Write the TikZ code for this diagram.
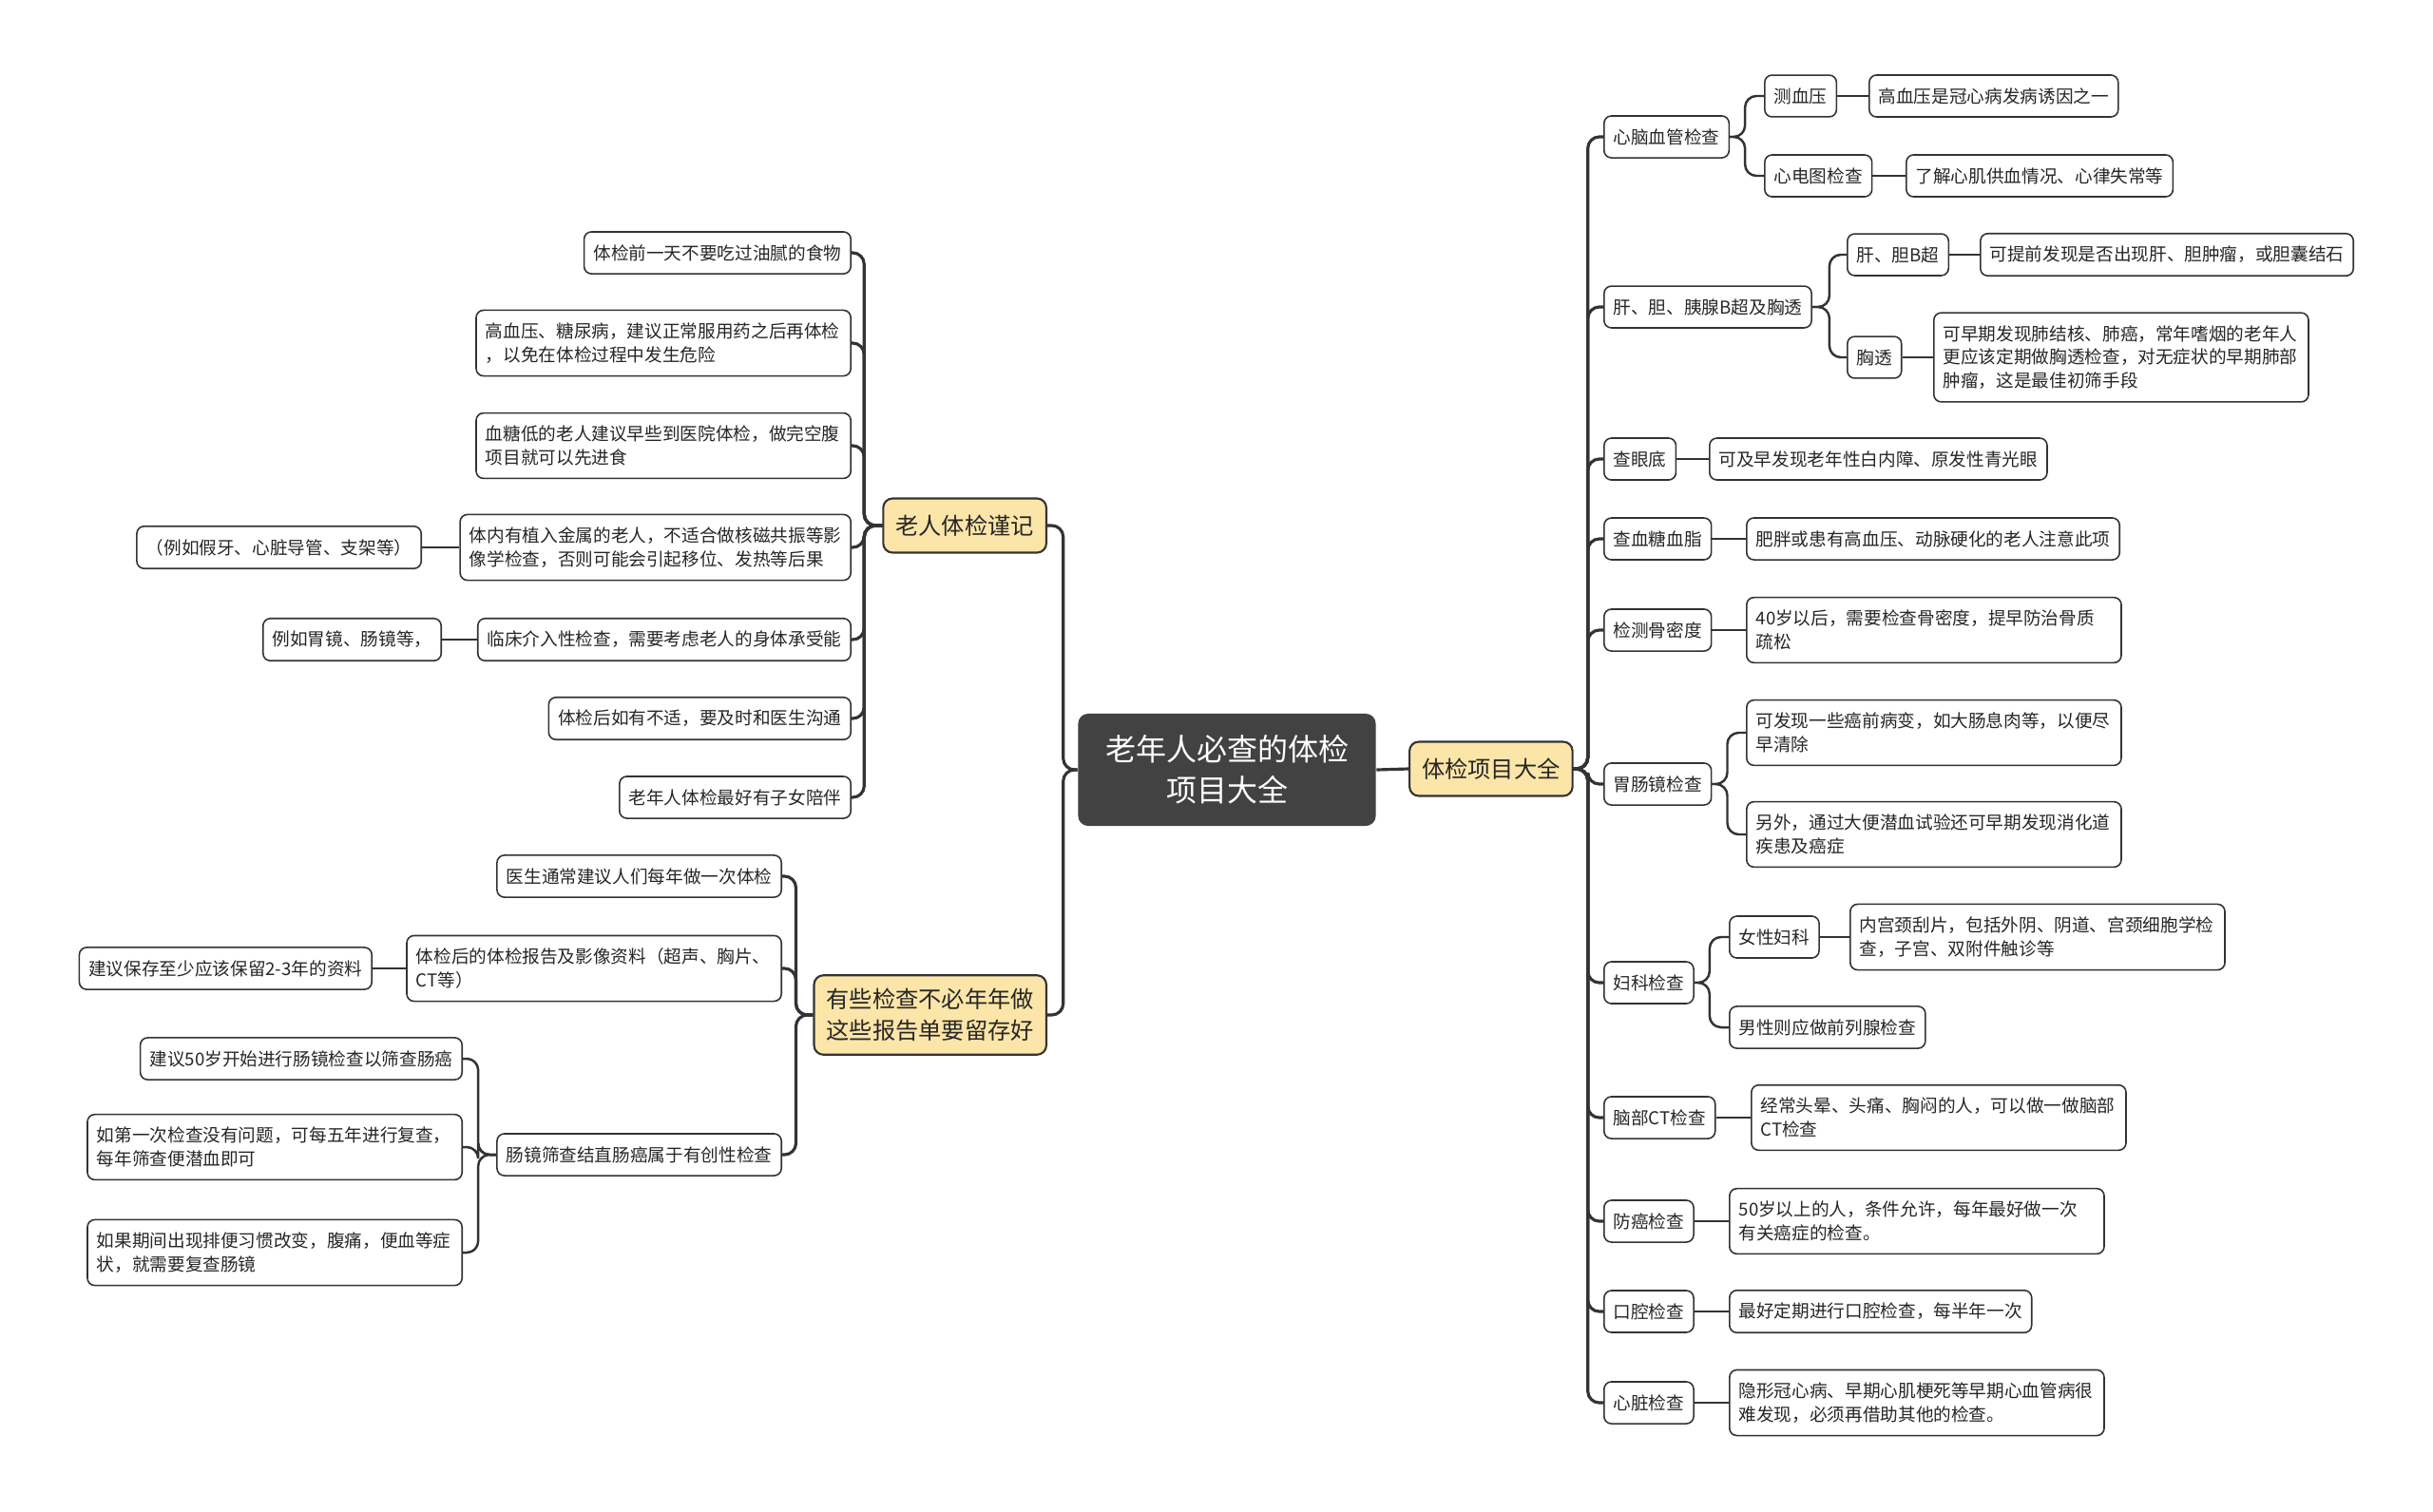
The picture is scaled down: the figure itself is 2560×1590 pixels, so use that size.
\documentclass[tikz,border=0pt]{standalone}
\usepackage{fontspec}
\newfontfamily\cjk{Noto Sans CJK SC}
\definecolor{topicfill}{RGB}{252,229,168}
\definecolor{rootfill}{RGB}{66,66,66}
\definecolor{linegray}{RGB}{51,51,51}
\begin{document}
\begin{tikzpicture}[x=0.01cm, y=-0.01cm,
    leaf/.style={draw=linegray, line width=0.45pt, rounded corners=2.2pt, fill=white,
      font=\cjk\fontsize{5.3}{7}\selectfont, inner xsep=2.8pt, inner ysep=3.8pt,
      minimum height=0.43cm, align=left, text=black!85},
    para/.style={leaf, text width=106.5pt},
    topic/.style={draw=linegray, line width=0.6pt, rounded corners=2.8pt, fill=topicfill,
      font=\cjk\fontsize{6.9}{9.3}\selectfont, inner xsep=3.7pt, inner ysep=4pt,
      minimum height=0.57cm, align=center, text=black!85},
    rootbox/.style={fill=rootfill, rounded corners=3pt, text=white,
      font=\cjk\fontsize{9.1}{12.2}\selectfont,
      minimum width=3.13cm, minimum height=1.18cm, align=center},
    trunk/.style={draw=linegray, line width=0.9pt, rounded corners=1.2mm},
    link/.style={draw=linegray, line width=0.7pt, rounded corners=1.2mm}]
  \fill[white] (0,0) rectangle (2560,1590);
  \useasboundingbox (0,0) rectangle (2560,1590);

  \node[rootbox] (root) at (1291,810) {老年人必查的体检\\项目大全};
  \node[topic, anchor=west] (R) at (1482,809) {体检项目大全};
  \node[topic, anchor=east] (L1) at (1102,553) {老人体检谨记};
  \node[topic, anchor=east] (L2) at (1102,1068) {有些检查不必年年做\\这些报告单要留存好};

  % right side
  \node[leaf, anchor=west] (c) at (1687,144) {心脑血管检查};
  \node[leaf, anchor=west] (c1) at (1856,101) {测血压};
  \node[leaf, anchor=west] (c1x) at (1966,101) {高血压是冠心病发病诱因之一};
  \node[leaf, anchor=west] (c2) at (1856,185) {心电图检查};
  \node[leaf, anchor=west] (c2x) at (2005,185) {了解心肌供血情况、心律失常等};
  \node[leaf, anchor=west] (d) at (1687,323) {肝、胆、胰腺B超及胸透};
  \node[leaf, anchor=west] (d1) at (1943,268) {肝、胆B超};
  \node[leaf, anchor=west] (d1x) at (2083,268) {可提前发现是否出现肝、胆肿瘤，或胆囊结石};
  \node[leaf, anchor=west] (d2) at (1943,376) {胸透};
  \node[para, anchor=west] (d2x) at (2034,376) {可早期发现肺结核、肺癌，常年嗜烟的老年人\\更应该定期做胸透检查，对无症状的早期肺部\\肿瘤，这是最佳初筛手段};
  \node[leaf, anchor=west] (e) at (1687,483) {查眼底};
  \node[leaf, anchor=west] (e1) at (1798,483) {可及早发现老年性白内障、原发性青光眼};
  \node[leaf, anchor=west] (f) at (1687,567) {查血糖血脂};
  \node[leaf, anchor=west] (f1) at (1837,567) {肥胖或患有高血压、动脉硬化的老人注意此项};
  \node[leaf, anchor=west] (g) at (1687,663) {检测骨密度};
  \node[para, anchor=west] (g1) at (1837,663) {40岁以后，需要检查骨密度，提早防治骨质\\疏松};
  \node[leaf, anchor=west] (h) at (1687,825) {胃肠镜检查};
  \node[para, anchor=west] (h1) at (1837,771) {可发现一些癌前病变，如大肠息肉等，以便尽\\早清除};
  \node[para, anchor=west] (h2) at (1837,878) {另外，通过大便潜血试验还可早期发现消化道\\疾患及癌症};
  \node[leaf, anchor=west] (i) at (1687,1034) {妇科检查};
  \node[leaf, anchor=west] (i1) at (1819,986) {女性妇科};
  \node[para, anchor=west] (i1x) at (1946,986) {内宫颈刮片，包括外阴、阴道、宫颈细胞学检\\查，子宫、双附件触诊等};
  \node[leaf, anchor=west] (i2) at (1819,1081) {男性则应做前列腺检查};
  \node[leaf, anchor=west] (j) at (1687,1176) {脑部CT检查};
  \node[para, anchor=west] (j1) at (1842,1176) {经常头晕、头痛、胸闷的人，可以做一做脑部\\CT检查};
  \node[leaf, anchor=west] (k) at (1687,1285) {防癌检查};
  \node[para, anchor=west] (k1) at (1819,1285) {50岁以上的人，条件允许，每年最好做一次\\有关癌症的检查。};
  \node[leaf, anchor=west] (l) at (1687,1380) {口腔检查};
  \node[leaf, anchor=west] (l1) at (1819,1380) {最好定期进行口腔检查，每半年一次};
  \node[leaf, anchor=west] (m) at (1687,1476) {心脏检查};
  \node[para, anchor=west] (m1) at (1819,1476) {隐形冠心病、早期心肌梗死等早期心血管病很\\难发现，必须再借助其他的检查。};

  % left side
  \node[leaf, anchor=east] (a1) at (896,266) {体检前一天不要吃过油腻的食物};
  \node[para, anchor=east] (a2) at (896,361) {高血压、糖尿病，建议正常服用药之后再体检\\，以免在体检过程中发生危险};
  \node[para, anchor=east] (a3) at (896,469) {血糖低的老人建议早些到医院体检，做完空腹\\项目就可以先进食};
  \node[leaf, anchor=east] (a4) at (896,576) {体内有植入金属的老人，不适合做核磁共振等影\\像学检查，否则可能会引起移位、发热等后果};
  \node[leaf, anchor=east] (a4x) at (444,576) {（例如假牙、心脏导管、支架等）};
  \node[leaf, anchor=east] (a5) at (896,673) {临床介入性检查，需要考虑老人的身体承受能};
  \node[leaf, anchor=east] (a5x) at (465,673) {例如胃镜、肠镜等，};
  \node[leaf, anchor=east] (a6) at (896,756) {体检后如有不适，要及时和医生沟通};
  \node[leaf, anchor=east] (a7) at (896,839) {老年人体检最好有子女陪伴};

  \node[leaf, anchor=east] (b1) at (823,922) {医生通常建议人们每年做一次体检};
  \node[para, anchor=east] (b2) at (823,1019) {体检后的体检报告及影像资料（超声、胸片、\\CT等）};
  \node[leaf, anchor=east] (b2x) at (392,1019) {建议保存至少应该保留2-3年的资料};
  \node[leaf, anchor=east] (b3) at (823,1215) {肠镜筛查结直肠癌属于有创性检查};
  \node[leaf, anchor=east] (b3a) at (487,1114) {建议50岁开始进行肠镜检查以筛查肠癌};
  \node[para, anchor=east] (b3b) at (487,1207) {如第一次检查没有问题，可每五年进行复查，\\每年筛查便潜血即可};
  \node[para, anchor=east] (b3c) at (487,1318) {如果期间出现排便习惯改变，腹痛，便血等症\\状，就需要复查肠镜};

  % connectors
  \draw[trunk] (root.east) -- (R.west);
  \draw[trunk] (root.west) -- ++(-15,0) |- (L1.east);
  \draw[trunk] (root.west) -- ++(-15,0) |- (L2.east);

  \draw[trunk] (R.east) -- ++(15,0) |- (c.west);
  \draw[trunk] (R.east) -- ++(15,0) |- (d.west);
  \draw[trunk] (R.east) -- ++(15,0) |- (e.west);
  \draw[trunk] (R.east) -- ++(15,0) |- (f.west);
  \draw[trunk] (R.east) -- ++(15,0) |- (g.west);
  \draw[trunk] (R.east) -- ++(15,0) |- (h.west);
  \draw[trunk] (R.east) -- ++(15,0) |- (i.west);
  \draw[trunk] (R.east) -- ++(15,0) |- (j.west);
  \draw[trunk] (R.east) -- ++(15,0) |- (k.west);
  \draw[trunk] (R.east) -- ++(15,0) |- (l.west);
  \draw[trunk] (R.east) -- ++(15,0) |- (m.west);

  \draw[link] (c.east) -- ++(16,0) |- (c1.west);
  \draw[link] (c.east) -- ++(16,0) |- (c2.west);
  \draw[link] (c1.east) -- (c1x.west);
  \draw[link] (c2.east) -- (c2x.west);
  \draw[link] (d.east) -- ++(18,0) |- (d1.west);
  \draw[link] (d.east) -- ++(18,0) |- (d2.west);
  \draw[link] (d1.east) -- (d1x.west);
  \draw[link] (d2.east) -- (d2x.west);
  \draw[link] (e.east) -- (e1.west);
  \draw[link] (f.east) -- (f1.west);
  \draw[link] (g.east) -- (g1.west);
  \draw[link] (h.east) -- ++(16,0) |- (h1.west);
  \draw[link] (h.east) -- ++(16,0) |- (h2.west);
  \draw[link] (i.east) -- ++(16,0) |- (i1.west);
  \draw[link] (i.east) -- ++(16,0) |- (i2.west);
  \draw[link] (i1.east) -- (i1x.west);
  \draw[link] (j.east) -- (j1.west);
  \draw[link] (k.east) -- (k1.west);
  \draw[link] (l.east) -- (l1.west);
  \draw[link] (m.east) -- (m1.west);

  \draw[trunk] (L1.west) -- ++(-19,0) |- (a1.east);
  \draw[trunk] (L1.west) -- ++(-19,0) |- (a2.east);
  \draw[trunk] (L1.west) -- ++(-19,0) |- (a3.east);
  \draw[trunk] (L1.west) -- ++(-19,0) |- (a4.east);
  \draw[trunk] (L1.west) -- ++(-19,0) |- (a5.east);
  \draw[trunk] (L1.west) -- ++(-19,0) |- (a6.east);
  \draw[trunk] (L1.west) -- ++(-19,0) |- (a7.east);
  \draw[link] (a4.west) -- (a4x.east);
  \draw[link] (a5.west) -- (a5x.east);

  \draw[trunk] (L2.west) -- ++(-18,0) |- (b1.east);
  \draw[trunk] (L2.west) -- ++(-18,0) |- (b2.east);
  \draw[trunk] (L2.west) -- ++(-18,0) |- (b3.east);
  \draw[link] (b2.west) -- (b2x.east);
  \draw[link] (b3.west) -- ++(-19,0) |- (b3a.east);
  \draw[link] (b3.west) -- ++(-19,0) |- (b3b.east);
  \draw[link] (b3.west) -- ++(-19,0) |- (b3c.east);
\end{tikzpicture}
\end{document}
